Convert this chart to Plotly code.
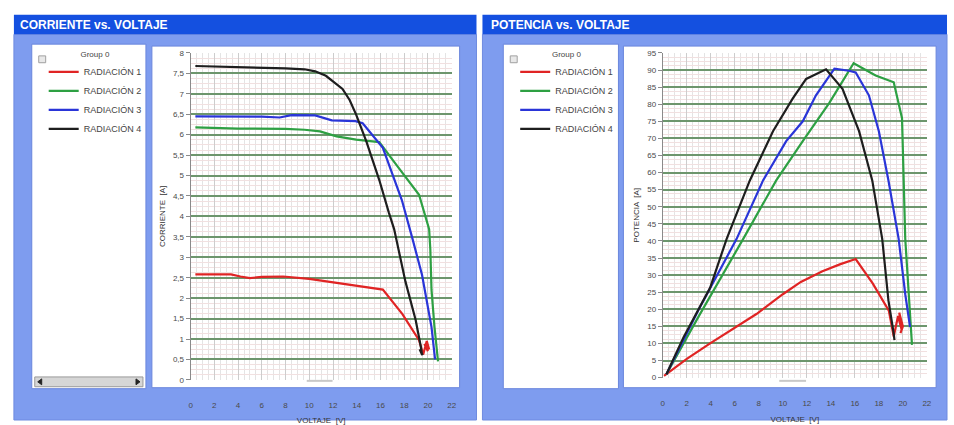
import plotly.graph_objects as go

W, H = 954, 425

# ---- data: current vs voltage ----
series_names = ["RADIACIÓN 1", "RADIACIÓN 2", "RADIACIÓN 3", "RADIACIÓN 4"]
series_colors = ["#e02424", "#2ea043", "#2a35d8", "#1e1e1e"]

v_i_rad1 = [0.4, 2.0, 3.4, 4.2, 5.0, 6.0, 7.8, 10.0, 12.3, 14.5, 16.2, 17.85, 19.25, 19.6, 19.9, 20.1, 19.7, 20.0]
i_rad1 = [2.58, 2.58, 2.58, 2.53, 2.49, 2.52, 2.53, 2.47, 2.37, 2.29, 2.21, 1.61, 0.97, 0.62, 0.95, 0.75, 0.88, 0.7]

v_i_rad2 = [0.4, 4.0, 8.0, 9.6, 10.9, 12.3, 13.95, 15.3, 15.9, 17.5, 19.25, 20.1, 20.2, 20.3, 20.55, 20.85]
i_rad2 = [6.18, 6.15, 6.14, 6.12, 6.08, 5.96, 5.88, 5.83, 5.82, 5.2, 4.53, 3.69, 3.2, 2.2, 1.3, 0.45]

v_i_rad3 = [0.4, 3.0, 6.0, 7.5, 8.5, 10.5, 11.9, 13.9, 14.5, 16.2, 17.0, 17.8, 18.7, 19.5, 20.3, 20.6]
i_rad3 = [6.45, 6.45, 6.44, 6.42, 6.48, 6.47, 6.35, 6.33, 6.28, 5.68, 5.05, 4.4, 3.45, 2.57, 1.29, 0.5]

v_i_rad4 = [0.4, 4.0, 8.0, 9.6, 10.5, 11.4, 12.8, 13.4, 13.95, 14.8, 15.9, 16.7, 17.15, 18.1, 18.97, 19.4, 19.5, 19.3, 19.55]
i_rad4 = [7.68, 7.66, 7.62, 7.6, 7.55, 7.44, 7.12, 6.85, 6.49, 5.84, 4.89, 4.1, 3.69, 2.41, 1.46, 0.81, 0.62, 0.75, 0.6]

# ---- data: power vs voltage ----
v_p_rad1 = [0.1, 2.0, 3.94, 6.0, 7.8, 10.0, 11.5, 13.3, 14.8, 16.07, 17.5, 18.83, 19.24, 19.6, 19.9, 19.7, 20.0, 19.8]
p_rad1 = [0.5, 5.5, 10.0, 14.5, 18.6, 24.4, 28.0, 31.1, 33.2, 34.7, 27.5, 19.6, 12.0, 18.0, 14.0, 19.0, 15.0, 13.0]

v_p_rad2 = [0.3, 3.0, 6.7, 9.45, 11.66, 13.86, 15.9, 17.73, 19.24, 19.93, 20.2, 20.48, 20.76]
p_rad2 = [1.0, 18.0, 40.6, 57.7, 69.2, 80.3, 92.0, 88.4, 86.4, 75.9, 40.6, 24.4, 9.6]

v_p_rad3 = [0.3, 3.0, 6.15, 8.35, 10.28, 11.66, 12.76, 14.3, 15.5, 16.07, 17.17, 18.0, 18.8, 19.65, 20.2, 20.6]
p_rad3 = [1.0, 20.0, 40.6, 57.7, 69.2, 75.0, 82.6, 90.4, 89.8, 89.3, 82.6, 72.1, 57.7, 40.6, 24.4, 14.8]

v_p_rad4 = [0.3, 1.74, 3.94, 5.32, 7.25, 9.18, 10.83, 11.94, 13.6, 14.97, 16.35, 17.45, 18.28, 18.8, 19.24, 19.3]
p_rad4 = [1.0, 11.9, 26.3, 40.6, 57.7, 72.1, 81.7, 87.4, 90.2, 84.5, 72.1, 57.7, 40.6, 22.5, 12.9, 11.0]

volt_ticks = [0, 2, 4, 6, 8, 10, 12, 14, 16, 18, 20, 22]


def fx(x):
    return x / W


def fy(y):
    return 1 - y / H


FONT = "Liberation Sans"
PANEL = "#7e9cef"
TITLEBAR = "#1450e0"

fig = go.Figure()

current_sets = [(v_i_rad1, i_rad1), (v_i_rad2, i_rad2), (v_i_rad3, i_rad3), (v_i_rad4, i_rad4)]
power_sets = [(v_p_rad1, p_rad1), (v_p_rad2, p_rad2), (v_p_rad3, p_rad3), (v_p_rad4, p_rad4)]

for name, color, (vx, iy) in zip(series_names, series_colors, current_sets):
    fig.add_trace(go.Scatter(x=vx, y=iy, mode="lines", name=name,
                             line=dict(color=color, width=2.2),
                             xaxis="x", yaxis="y", legend="legend"))

for name, color, (vx, py_) in zip(series_names, series_colors, power_sets):
    fig.add_trace(go.Scatter(x=vx, y=py_, mode="lines", name=name,
                             line=dict(color=color, width=2.2),
                             xaxis="x2", yaxis="y2", legend="legend2"))


def rect(x0, y0, x1, y1, fill, line_color=None, width=0):
    return dict(type="rect", xref="paper", yref="paper",
                x0=fx(x0), x1=fx(x1), y0=fy(y1), y1=fy(y0),
                fillcolor=fill, layer="below",
                line=dict(color=line_color or fill, width=width))


shapes = []
for (px0, px1, lg0, lg1, pl0, pl1) in [(12, 478, 30, 145, 151, 461), (484, 952, 505, 621, 626, 941)]:
    shapes.append(rect(px0, 31, px1, 425, PANEL, "#6f8be0", 1))
    shapes.append(rect(px0, 11, px1, 31, TITLEBAR))
    shapes.append(rect(lg0, 41, lg1, 393, "white", "#6a86dc", 1))
    shapes.append(rect(pl0, 43, pl1, 392, "white", "#6a86dc", 1))
    # collapse box beside the legend group name
    shapes.append(rect(lg0 + 7, 53, lg0 + 14, 60, "#e8e8e8", "#a0a0a0", 1))

# horizontal scrollbar under the left legend
shapes.append(rect(33, 381, 142, 391, "#d6d6d6", "#9a9a9a", 1))
for path in ["M {a},{b} L {c},{d} L {c},{e} Z".format(a=fx(36), b=fy(386), c=fx(40), d=fy(383), e=fy(389)),
             "M {a},{b} L {c},{d} L {c},{e} Z".format(a=fx(139), b=fy(386), c=fx(135), d=fy(383), e=fy(389))]:
    shapes.append(dict(type="path", xref="paper", yref="paper", path=path,
                       fillcolor="#222", line=dict(color="#222", width=1), layer="above"))

# small scroll marks beneath each plot
for x0, x1 in [(307, 333), (783, 810)]:
    shapes.append(dict(type="line", xref="paper", yref="paper",
                       x0=fx(x0), x1=fx(x1), y0=fy(385), y1=fy(385),
                       line=dict(color="#c8c8c8", width=2), layer="below"))

annotations = [
    dict(text="<b>CORRIENTE vs. VOLTAJE</b>", x=fx(16), y=fy(21), xref="paper", yref="paper",
         xanchor="left", yanchor="middle", showarrow=False,
         font=dict(family=FONT, size=12, color="white")),
    dict(text="<b>POTENCIA vs. VOLTAJE</b>", x=fx(491), y=fy(21), xref="paper", yref="paper",
         xanchor="left", yanchor="middle", showarrow=False,
         font=dict(family=FONT, size=12, color="white")),
]

tickfont = dict(family=FONT, size=8, color="#4a4a4a")
titlefont = dict(family=FONT, size=8, color="#333")


def xaxis_cfg(x0, x1, anchor):
    return dict(domain=[fx(x0), fx(x1)], range=[0, 22], anchor=anchor,
                tickvals=volt_ticks, showgrid=True, gridcolor="#cdcdcd", gridwidth=1,
                minor=dict(dtick=0.5, tick0=0, showgrid=True, gridcolor="#e4e4e4", gridwidth=1),
                zeroline=False, showline=False, ticks="",
                tickfont=tickfont, ticklabelstandoff=19,
                title=dict(text="VOLTAJE  [V]", font=titlefont, standoff=9))


def yaxis_cfg(y0, y1, rng, dtick, minor_dtick, title, anchor):
    return dict(domain=[fy(y0), fy(y1)], range=rng, anchor=anchor,
                dtick=dtick, tick0=0, showgrid=True, gridcolor="#6d966d", gridwidth=1.5,
                minor=dict(dtick=minor_dtick, tick0=0, showgrid=True, gridcolor="#f1e0e0", gridwidth=1),
                zeroline=False, showline=True, linecolor="#8a8a8a", linewidth=1,
                ticks="outside", ticklen=4, tickcolor="#8a8a8a",
                tickfont=tickfont,
                title=dict(text=title, font=titlefont, standoff=6))


legend_common = dict(xanchor="left", yanchor="top", bgcolor="rgba(0,0,0,0)",
                     font=dict(family=FONT, size=9, color="#444"),
                     itemwidth=30, tracegroupgap=0,
                     title=dict(text="Group 0", side="top center",
                                font=dict(family=FONT, size=8, color="#444")))

fig.update_layout(
    width=W, height=H,
    margin=dict(l=0, r=0, t=0, b=0),
    paper_bgcolor="white", plot_bgcolor="rgba(0,0,0,0)",
    separators=",.",
    font=dict(family=FONT),
    xaxis=xaxis_cfg(190, 453, "y"),
    yaxis=yaxis_cfg(384, 50, [0, 8], 0.5, 0.125, "CORRIENTE  [A]", "x"),
    xaxis2=xaxis_cfg(665.7, 931.7, "y2"),
    yaxis2=yaxis_cfg(381.7, 50, [0, 95], 5, 1.25, "POTENCIA  [A]", "x2"),
    legend=dict(x=fx(42), y=fy(44), **legend_common),
    legend2=dict(x=fx(517), y=fy(44), **legend_common),
    shapes=shapes,
    annotations=annotations,
)

fig.write_html("out.html")
